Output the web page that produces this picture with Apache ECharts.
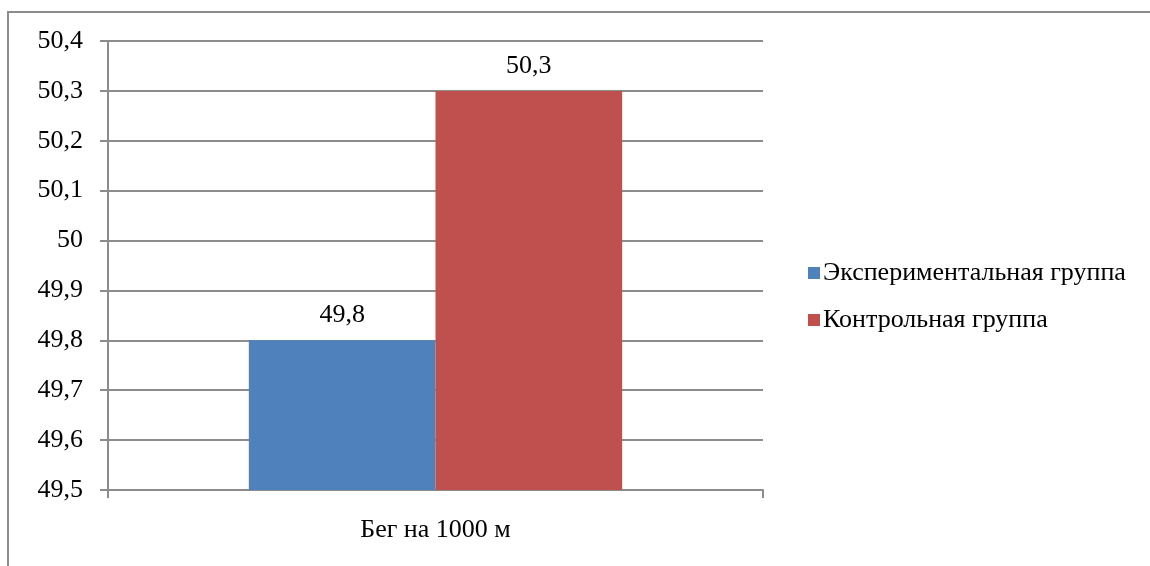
<!DOCTYPE html>
<html>
<head>
<meta charset="utf-8">
<script src="https://cdn.jsdelivr.net/npm/echarts@6/dist/echarts.min.js"></script>
<style>
  html, body { margin: 0; padding: 0; background: #fff; }
  #chart { width: 1150px; height: 566px; }
</style>
</head>
<body>
<div id="chart"></div>
<script>
const categories = ['Бег на 1000 м']
const seriesNames = ['Экспериментальная группа', 'Контрольная группа']
const experimentalValues = [49.8]
const controlValues = [50.3]

const fmt = v => String(Number(Number(v).toFixed(1))).replace('.', ',')
const fontFamily = '"Liberation Serif", "DejaVu Serif", serif'

const labelOptions = {
  show: true,
  position: 'top',
  distance: 12,
  fontSize: 26,
  fontFamily: fontFamily,
  color: '#000',
  formatter: p => fmt(p.value)
}

const chart = echarts.init(document.getElementById('chart'))
chart.setOption({
  animation: false,
  textStyle: { fontFamily: fontFamily },
  graphic: [{
    type: 'rect',
    shape: { x: 8, y: 12, width: 1300, height: 700 },
    style: { fill: 'none', stroke: '#8c8c8c', lineWidth: 2 }
  }],
  grid: { left: 108, right: 387, top: 41, bottom: 76 },
  legend: {
    orient: 'vertical',
    left: 803,
    top: 255,
    itemWidth: 12,
    itemHeight: 12,
    itemGap: 21,
    icon: 'rect',
    textStyle: { fontSize: 26, color: '#000', fontFamily: fontFamily, padding: [0, 0, 0, -2] },
    data: seriesNames
  },
  xAxis: {
    type: 'category',
    data: categories,
    axisLine: { lineStyle: { color: '#8c8c8c', width: 2 } },
    axisTick: { show: true, length: 8, lineStyle: { color: '#8c8c8c', width: 2 } },
    axisLabel: { fontSize: 26, color: '#000', margin: 27, fontFamily: fontFamily }
  },
  yAxis: {
    type: 'value',
    min: 49.5,
    max: 50.4,
    interval: 0.1,
    axisLine: { show: true, lineStyle: { color: '#8c8c8c', width: 2 } },
    axisTick: { show: true, length: 8, lineStyle: { color: '#8c8c8c', width: 2 } },
    splitLine: { lineStyle: { color: '#8c8c8c', width: 2 } },
    axisLabel: { fontSize: 26, color: '#000', margin: 25, fontFamily: fontFamily, formatter: fmt }
  },
  series: [
    {
      name: seriesNames[0],
      type: 'bar',
      barWidth: '28.5%',
      barGap: 0,
      itemStyle: { color: '#4F81BD' },
      label: labelOptions,
      data: experimentalValues
    },
    {
      name: seriesNames[1],
      type: 'bar',
      barWidth: '28.5%',
      barGap: 0,
      itemStyle: { color: '#C0504D' },
      label: labelOptions,
      data: controlValues
    }
  ]
})
</script>
</body>
</html>
